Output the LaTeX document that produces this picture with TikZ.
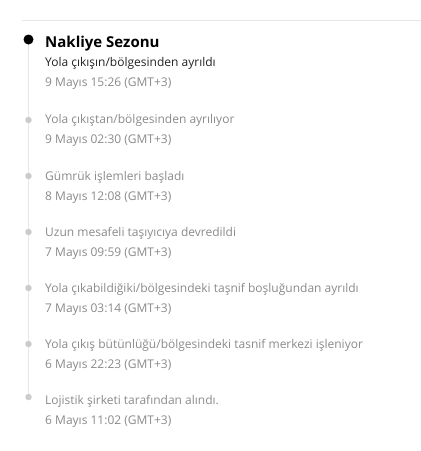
\documentclass[tikz,border=0pt]{standalone}
\usepackage{fontspec}
\setmainfont{Open Sans}
\definecolor{rulegray}{HTML}{E6E6E6}
\definecolor{dotgray}{HTML}{CCCCCC}
\definecolor{txtgray}{HTML}{8A8A8A}
\definecolor{txtdark}{HTML}{222222}
\begin{document}
\begin{tikzpicture}[x=1pt,y=1pt,
  title/.style={anchor=base west,inner sep=0pt,font=\fontsize{15}{18}\selectfont\bfseries,text=black},
  desc/.style={anchor=base west,inner sep=0pt,font=\fontsize{12}{14}\selectfont,text=txtgray},
  firstdesc/.style={desc,text=txtdark},
  datetxt/.style={anchor=base west,inner sep=0pt,font=\fontsize{12}{14}\selectfont,text=txtgray},
  bigdot/.style={circle,fill=black,inner sep=0pt,minimum size=10pt},
  smalldot/.style={circle,fill=dotgray,inner sep=0pt,minimum size=6.5pt},
  trackline/.style={draw=rulegray,line width=1.5pt}]
\useasboundingbox (0,0) rectangle (421,-451);
\coordinate (rl) at (22,-20);
\coordinate (rr) at (421,-20);
\draw[draw=rulegray,line width=1pt] (rl) -- (rr);
% track
\coordinate (d0) at (28.5,-39.5);
\coordinate (d1) at (28.5,-120);
\coordinate (d2) at (28.5,-176);
\coordinate (d3) at (28.5,-232);
\coordinate (d4) at (28.5,-288);
\coordinate (d5) at (28.5,-344);
\coordinate (d6) at (28.5,-397);
\draw[trackline] (d0) -- (d6);
\node[bigdot] (b0) at (d0) {};
\node[smalldot] (b1) at (d1) {};
\node[smalldot] (b2) at (d2) {};
\node[smalldot] (b3) at (d3) {};
\node[smalldot] (b4) at (d4) {};
\node[smalldot] (b5) at (d5) {};
\node[smalldot] (b6) at (d6) {};
% texts
\node[title] (t0) at (45,-47.5) {Nakliye Sezonu};
\node[firstdesc] (s0) at (45,-66) {Yola çıkışın/bölgesinden ayrıldı};
\node[datetxt] (dt0) at (45,-86) {9 Mayıs 15:26 (GMT+3)};
\node[desc] (s1) at (45,-123.5) {Yola çıkıştan/bölgesinden ayrılıyor};
\node[datetxt] (dt1) at (45,-143.5) {9 Mayıs 02:30 (GMT+3)};
\node[desc] (s2) at (45,-180) {Gümrük işlemleri başladı};
\node[datetxt] (dt2) at (45,-200) {8 Mayıs 12:08 (GMT+3)};
\node[desc] (s3) at (45,-236) {Uzun mesafeli taşıyıcıya devredildi};
\node[datetxt] (dt3) at (45,-256) {7 Mayıs 09:59 (GMT+3)};
\node[desc] (s4) at (45,-292) {Yola çıkabildiğiki/bölgesindeki taşnif boşluğundan ayrıldı};
\node[datetxt] (dt4) at (45,-312) {7 Mayıs 03:14 (GMT+3)};
\node[desc] (s5) at (45,-348) {Yola çıkış bütünlüğü/bölgesindeki tasnif merkezi işleniyor};
\node[datetxt] (dt5) at (45,-368) {6 Mayıs 22:23 (GMT+3)};
\node[desc] (s6) at (45,-404) {Lojistik şirketi tarafından alındı.};
\node[datetxt] (dt6) at (45,-424) {6 Mayıs 11:02 (GMT+3)};
\end{tikzpicture}
\end{document}
